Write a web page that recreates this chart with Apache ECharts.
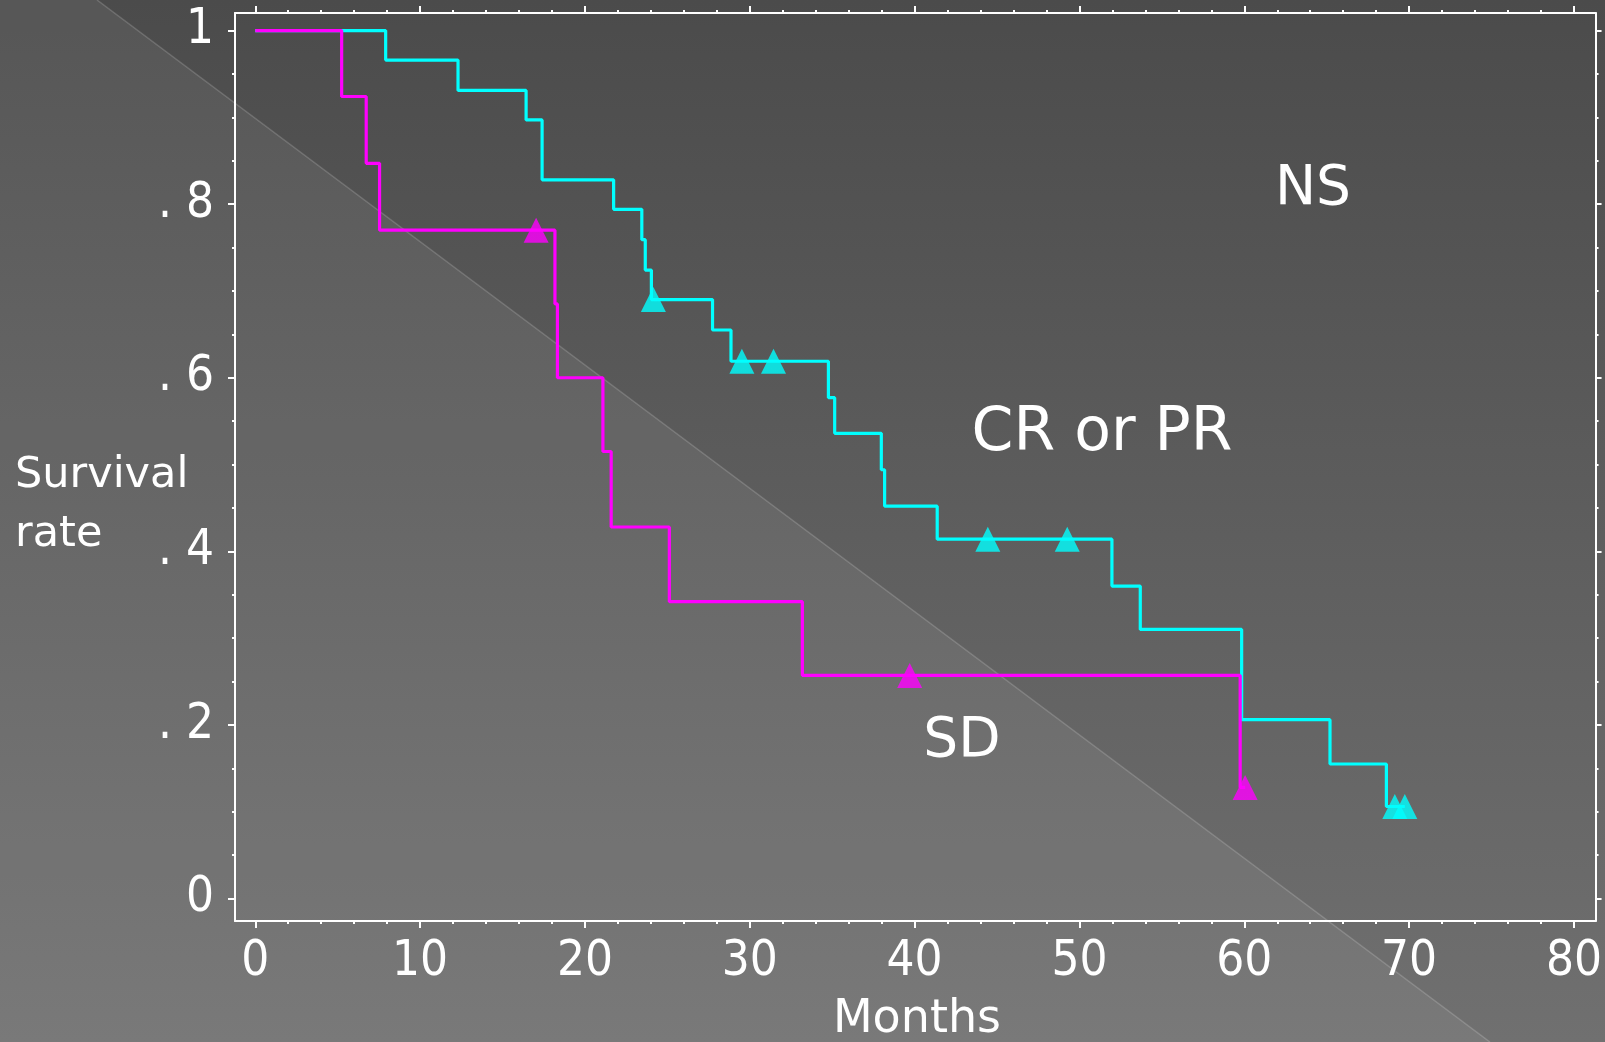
<!DOCTYPE html>
<html>
<head>
<meta charset="utf-8">
<script src="https://cdn.jsdelivr.net/npm/echarts@6/dist/echarts.min.js"></script>
<style>
html,body{margin:0;padding:0;background:#5a5a5a;}
#c{width:1605px;height:1042px;}
</style>
</head>
<body>
<div id="c"></div>
<script>
// ---- data ----
// CR or PR group (cyan): drop times (months) and survival after each drop
const crTimes = [0, 7.91, 12.30, 16.43, 17.40, 21.74, 23.45, 23.66, 24.03, 27.74, 28.86, 34.77, 35.15, 37.98, 38.18, 41.37, 51.97, 53.69, 59.84, 65.20, 68.62, 69.74];
const crSurv  = [1.000, 0.966, 0.931, 0.897, 0.828, 0.794, 0.759, 0.724, 0.690, 0.655, 0.619, 0.577, 0.536, 0.494, 0.452, 0.414, 0.360, 0.310, 0.206, 0.155, 0.106, 0.106];
// CR or PR censored observations
const crCensorTimes = [24.15, 29.52, 31.44, 44.44, 49.26, 69.13, 69.74];
const crCensorSurv  = [0.690, 0.619, 0.619, 0.414, 0.414, 0.106, 0.106];

// SD group (magenta)
const sdTimes = [0, 5.24, 6.73, 7.54, 18.18, 18.33, 21.09, 21.59, 25.12, 33.19, 59.75, 60.05];
const sdSurv  = [1.000, 0.924, 0.847, 0.770, 0.685, 0.600, 0.515, 0.428, 0.342, 0.257, 0.128, 0.128];
const sdCensorTimes = [17.04, 39.70, 60.05];
const sdCensorSurv  = [0.770, 0.257, 0.128];

// tick values and labels
const xMajor = [0, 10, 20, 30, 40, 50, 60, 70, 80];
const xTickLabels = ['0', '10', '20', '30', '40', '50', '60', '70', '80'];
const xMinor = [2,4,6,8,12,14,16,18,22,24,26,28,32,34,36,38,42,44,46,48,52,54,56,58,62,64,66,68,72,74,76,78];
const yMajor = [0, 0.2, 0.4, 0.6, 0.8, 1];
const yTickLabels = ['0', '. 2', '. 4', '. 6', '. 8', '1'];
const yMinor = [0.05,0.1,0.15,0.25,0.3,0.35,0.45,0.5,0.55,0.65,0.7,0.75,0.85,0.9,0.95];

const groupNames = ['CR or PR', 'SD'];
const groupColors = ['#00ffff', '#ff00ff'];

// ---- chart ----
const chart = echarts.init(document.getElementById('c'), null, {renderer: 'canvas'});

const X_MIN = -1.23, X_MAX = 81.31, Y_MIN = -0.0259, Y_MAX = 1.0202;
const tickFont = '"Liberation Sans Narrow", "DejaVu Sans Condensed", "Roboto", sans-serif';
const textFont = '"DejaVu Sans", "Noto Sans", sans-serif';
const white = '#ffffff';

function pairs(xs, ys) { return xs.map((x, i) => [x, ys[i]]); }
function lookup(vals, labels) {
  return function (v) {
    for (let i = 0; i < vals.length; i++) if (Math.abs(vals[i] - v) < 1e-6) return labels[i];
    return '';
  };
}

function xAx(pos, ticks, len, withLine, withLabel) {
  return {
    type: 'value', position: pos, min: X_MIN, max: X_MAX, gridIndex: 0,
    axisLine: {show: withLine, onZero: false, lineStyle: {color: white, width: 2}},
    axisTick: {show: true, inside: false, length: len, customValues: ticks, lineStyle: {color: white, width: 2}},
    axisLabel: withLabel ? {
      show: true, customValues: xMajor, formatter: lookup(xMajor, xTickLabels),
      color: white, fontFamily: tickFont, fontSize: 49, lineHeight: 50, margin: 16
    } : {show: false},
    splitLine: {show: false}
  };
}
function yAx(pos, ticks, len, withLine, withLabel) {
  return {
    type: 'value', position: pos, min: Y_MIN, max: Y_MAX, gridIndex: 0,
    axisLine: {show: withLine, onZero: false, lineStyle: {color: white, width: 2}},
    axisTick: {show: true, inside: false, length: len, customValues: ticks, lineStyle: {color: white, width: 2}},
    axisLabel: withLabel ? {
      show: true, customValues: yMajor, formatter: lookup(yMajor, yTickLabels),
      color: white, fontFamily: tickFont, fontSize: 49, lineHeight: 50, margin: 21
    } : {show: false},
    splitLine: {show: false}
  };
}

const option = {
  animation: false,
  backgroundColor: {
    type: 'linear', x: 0, y: 0, x2: 0, y2: 1,
    colorStops: [{offset: 0, color: '#4b4b4b'}, {offset: 1, color: '#707070'}]
  },
  grid: {left: 235, right: 7, top: 13, bottom: 121, containLabel: false},
  xAxis: [
    xAx('bottom', xMajor, 7, true, true),
    xAx('bottom', xMinor, 3, false, false),
    xAx('top', xMajor, 7, true, false),
    xAx('top', xMinor, 3, false, false)
  ],
  yAxis: [
    yAx('left', yMajor, 7, true, true),
    yAx('left', yMinor, 3, false, false),
    yAx('right', yMajor, 6, true, false),
    yAx('right', yMinor, 3, false, false)
  ],
  graphic: [
    {type: 'polygon', silent: true, z: -10,
     shape: {points: [[0, 0], [97, 0], [1490, 1042], [0, 1042]]},
     style: {fill: 'rgba(255,255,255,0.065)'}},
    {type: 'line', silent: true, z: -9,
     shape: {x1: 97, y1: 0, x2: 1490, y2: 1042},
     style: {stroke: 'rgba(255,255,255,0.17)', lineWidth: 1.5}},
    {type: 'text', silent: true, style: {text: 'NS', x: 1313, y: 190, textAlign: 'center', textVerticalAlign: 'middle', verticalAlign: 'middle', fill: white, font: '55px ' + textFont}},
    {type: 'text', silent: true, style: {text: groupNames[0], x: 1102, y: 434, textAlign: 'center', textVerticalAlign: 'middle', verticalAlign: 'middle', fill: white, font: '60px ' + textFont}},
    {type: 'text', silent: true, style: {text: groupNames[1], x: 962, y: 742, textAlign: 'center', textVerticalAlign: 'middle', verticalAlign: 'middle', fill: white, font: '55px ' + textFont}},
    {type: 'text', silent: true, style: {text: 'Survival', x: 15, y: 476, textAlign: 'left', textVerticalAlign: 'middle', verticalAlign: 'middle', fill: white, font: '43px ' + textFont}},
    {type: 'text', silent: true, style: {text: 'rate', x: 15, y: 535, textAlign: 'left', textVerticalAlign: 'middle', verticalAlign: 'middle', fill: white, font: '43px ' + textFont}},
    {type: 'text', silent: true, style: {text: 'Months', x: 917, y: 1020, textAlign: 'center', textVerticalAlign: 'middle', verticalAlign: 'middle', fill: white, font: '46px ' + textFont}}
  ],
  series: [
    {name: groupNames[0], type: 'line', step: 'end', xAxisIndex: 0, yAxisIndex: 0,
     data: pairs(crTimes, crSurv), showSymbol: false, symbol: 'none', z: 3,
     lineStyle: {color: groupColors[0], width: 3.2}},
    {name: groupNames[0] + ' censored', type: 'scatter', xAxisIndex: 0, yAxisIndex: 0,
     data: pairs(crCensorTimes, crCensorSurv), symbol: 'triangle', symbolSize: [25, 25], z: 4,
     itemStyle: {color: groupColors[0]}},
    {name: groupNames[1], type: 'line', step: 'end', xAxisIndex: 0, yAxisIndex: 0,
     data: pairs(sdTimes, sdSurv), showSymbol: false, symbol: 'none', z: 5,
     lineStyle: {color: groupColors[1], width: 3.2}},
    {name: groupNames[1] + ' censored', type: 'scatter', xAxisIndex: 0, yAxisIndex: 0,
     data: pairs(sdCensorTimes, sdCensorSurv), symbol: 'triangle', symbolSize: [25, 25], z: 6,
     itemStyle: {color: groupColors[1]}}
  ]
};
chart.setOption(option);
</script>
</body>
</html>
